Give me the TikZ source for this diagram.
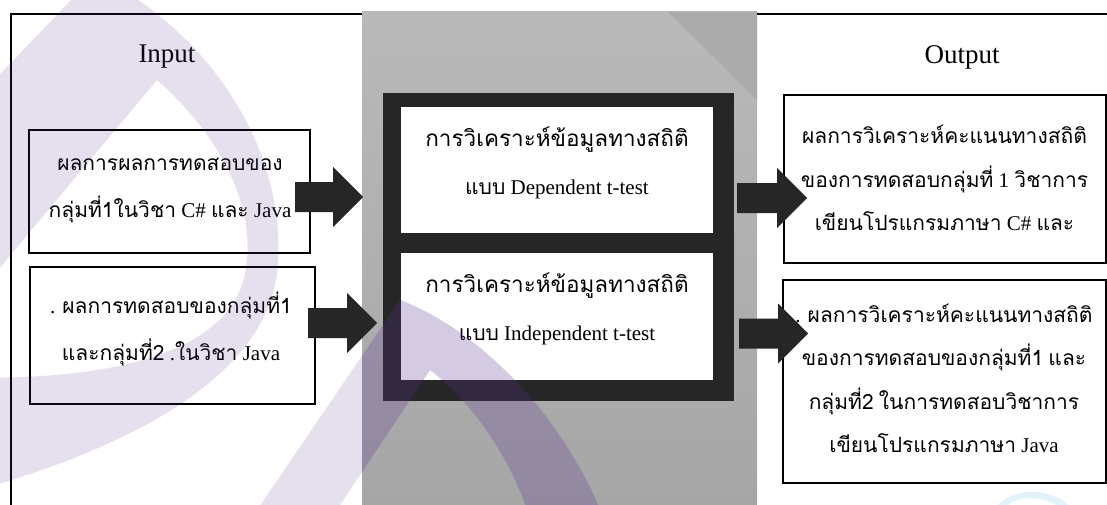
\documentclass[tikz,border=0pt]{standalone}
\usepackage{fontspec}
\setmainfont{Liberation Serif}
\newfontfamily\thaifont[Script=Thai]{Loma}
\newcommand\thtxt[1]{{\thaifont #1}}
\usetikzlibrary{calc}

\definecolor{panelTop}{HTML}{B9B9B9}
\definecolor{panelBot}{HTML}{A6A6A6}
\definecolor{panelCorner}{HTML}{ABABAB}
\definecolor{inkdark}{HTML}{262626}
\definecolor{wmarkInk}{HTML}{5A3390}
\definecolor{arcblue}{HTML}{E2F2FA}

% block arrow: tail x, tip x, centre y, head base x
\newcommand\blockarrow[4]{%
  \fill[inkdark] (#1,#3-15) -- (#4,#3-15) -- (#4,#3-30) -- (#2,#3)
    -- (#4,#3+30) -- (#4,#3+15) -- (#1,#3+15) -- cycle;}

% the two drop-shaped bands of the background logo
\newcommand\logobands{%
  \fill[wmarkInk, even odd rule]
    (95,-25) -- (-150,231) -- (-150,520)
      .. controls (60,480) and (272,400) .. (278,262)
      .. controls (285,130) and (190,20) .. (95,-25) -- cycle
    (157,80) -- (-90,375)
      .. controls (140,390) and (238,340) .. (246,267)
      .. controls (255,210) and (225,140) .. (157,80) -- cycle;
  \fill[wmarkInk, even odd rule]
    (400,300) -- (240,535) -- (610,535)
      .. controls (570,420) and (480,330) .. (400,300) -- cycle
    (430,370) -- (320,535) -- (535,535)
      .. controls (515,460) and (470,400) .. (430,370) -- cycle;}

\begin{document}
\begin{tikzpicture}[x=1pt,y=-1pt,
  box/.style={draw=black, line width=1.4pt, fill=white, inner sep=0pt},
  corebox/.style={fill=inkdark, inner sep=0pt},
  innerbox/.style={fill=white, inner sep=0pt},
  txtL/.style={align=center, inner sep=0pt, font=\fontsize{21}{47}\selectfont},
  txtM/.style={align=center, inner sep=0pt, font=\fontsize{21}{48}\selectfont},
  txtR/.style={align=center, inner sep=0pt, font=\fontsize{21}{43.5}\selectfont},
  heading/.style={inner sep=0pt, font=\fontsize{27}{32}\selectfont},
  frame/.style={line width=2pt, black}
]
\useasboundingbox (0,0) rectangle (1107,505);
\fill[white] (0,0) rectangle (1107,505);

% central grey processing panel
\shade[top color=panelTop, bottom color=panelBot] (362,12) rectangle (757,505);
\fill[panelCorner] (668,12) -- (757,12) -- (757,100) -- cycle;

% outer frame lines
\draw[frame] (11,505) -- (11,14) -- (362,14);
\draw[frame] (757,14) -- (1107,14);

% headings
\node[heading] (inlabel) at (167,57) {Input};
\node[heading] (outlabel) at (962,57) {Output};

% processing block
\node[corebox, minimum width=351, minimum height=308] (core) at (558.5,247) {};
\node[innerbox, minimum width=312, minimum height=126] (dep) at (557,170) {};
\node[innerbox, minimum width=312, minimum height=127] (ind) at (557,316.5) {};
\node[txtM] (deptxt) at (557,162.5) {{\fontsize{22.5}{48}\selectfont\thtxt{การวิเคราะห์ข้อมูลทางสถิติ}}\\\thtxt{แบบ} Dependent t-test};
\node[txtM] (indtxt) at (557,309) {{\fontsize{22.5}{48}\selectfont\thtxt{การวิเคราะห์ข้อมูลทางสถิติ}}\\\thtxt{แบบ} Independent t-test};

% input boxes
\node[box, minimum width=281, minimum height=123] (in1) at (169.5,191.5) {};
\node[box, minimum width=285, minimum height=137] (in2) at (172.5,335.5) {};
\node[txtL] (in1txt) at (170,191) {\thtxt{ผลการผลการทดสอบของ}\\\thtxt{กลุ่มที่1ในวิชา} C\# \thtxt{และ} Java};
\node[txtL] (in2txt) at (171,328.5) {. \thtxt{ผลการทดสอบของกลุ่มที่1}\\\thtxt{และกลุ่มที่2} .\thtxt{ในวิชา} Java};

% output boxes
\node[box, minimum width=322, minimum height=168] (out1) at (945,179) {};
\node[box, minimum width=323, minimum height=203] (out2) at (944.5,381.5) {};
\node[txtR] (out1txt) at (944.5,178) {\thtxt{ผลการวิเคราะห์คะแนนทางสถิติ}\\\thtxt{ของการทดสอบกลุ่มที่} 1 \thtxt{วิชาการ}\\\thtxt{เขียนโปรแกรมภาษา} C\# \thtxt{และ}};
\node[txtR] (out2txt) at (944,378.5) {. \thtxt{ผลการวิเคราะห์คะแนนทางสถิติ}\\\thtxt{ของการทดสอบของกลุ่มที่1} \thtxt{และ}\\\thtxt{กลุ่มที่2} \thtxt{ในการทดสอบวิชาการ}\\\thtxt{เขียนโปรแกรมภาษา} Java};

% block arrows between stages
\blockarrow{295}{363}{197}{333}
\blockarrow{308}{377}{323}{347}
\blockarrow{737}{807}{198}{777}
\blockarrow{739}{808}{333.5}{778}

% faint background logo laid over the page, a little deeper on the grey panel
\begin{scope}[fill opacity=0.15]
  \logobands
\end{scope}
\begin{scope}
  \clip (362,12) rectangle (757,505);
  \begin{scope}[fill opacity=0.12]
    \logobands
  \end{scope}
\end{scope}
\fill[arcblue] (998,505) .. controls (1012,489) and (1048,486) .. (1068,505)
  -- (1056,505) .. controls (1042,496) and (1018,496) .. (1008,505) -- cycle;
\end{tikzpicture}
\end{document}
